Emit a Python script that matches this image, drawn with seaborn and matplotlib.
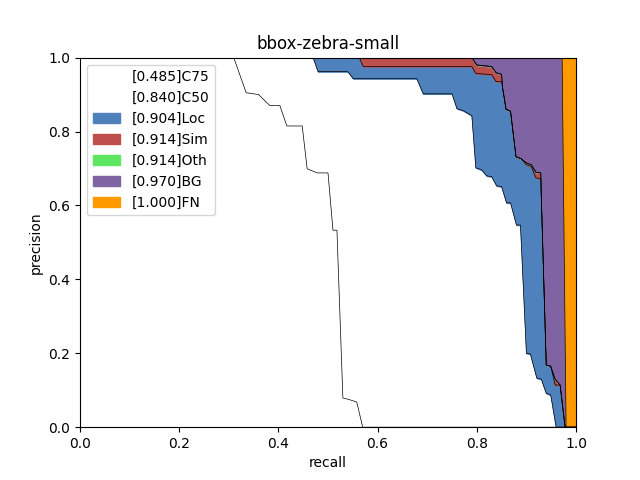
import numpy as np
import matplotlib
matplotlib.use('Agg')
import matplotlib.pyplot as plt
import seaborn as sns
import pandas as pd

# PR-curve vertices (recall, precision)
c75_rc = [0.0, 0.31, 0.335, 0.36, 0.383, 0.403, 0.417, 0.448, 0.458, 0.478, 0.50, 0.51, 0.518, 0.530, 0.540, 0.558, 0.570, 1.0]
c75_pr = [1.0, 1.0, 0.905, 0.90, 0.87, 0.87, 0.815, 0.815, 0.699, 0.688, 0.688, 0.533, 0.533, 0.079, 0.076, 0.068, 0.0, 0.0]
c50_rc = [0.0, 0.47, 0.48, 0.54, 0.551, 0.679, 0.692, 0.75, 0.76, 0.772, 0.79, 0.798, 0.81, 0.82, 0.83, 0.84, 0.85,
          0.86, 0.868, 0.88, 0.888, 0.90, 0.908, 0.921, 0.93, 0.94, 0.949, 0.96, 1.0]
c50_pr = [1.0, 1.0, 0.962, 0.962, 0.943, 0.943, 0.902, 0.902, 0.862, 0.857, 0.843, 0.702, 0.696, 0.68, 0.678, 0.653, 0.651,
          0.607, 0.607, 0.547, 0.547, 0.20, 0.198, 0.133, 0.13, 0.092, 0.087, 0.0, 0.0]
loc_rc = [0.0, 0.563, 0.571, 0.79, 0.798, 0.83, 0.839, 0.85, 0.859, 0.868, 0.879, 0.89, 0.90, 0.91, 0.919, 0.929,
          0.94, 0.949, 0.958, 0.968, 0.978, 1.0]
loc_pr = [1.0, 1.0, 0.976, 0.976, 0.957, 0.954, 0.935, 0.935, 0.86, 0.855, 0.732, 0.726, 0.71, 0.705, 0.675, 0.672,
          0.168, 0.165, 0.114, 0.114, 0.0, 0.0]
sim_rc = [0.0, 0.79, 0.80, 0.83, 0.839, 0.85, 0.856, 0.868, 0.877, 0.89, 0.90, 0.91, 0.919, 0.929,
          0.936, 0.949, 0.958, 0.968, 0.978, 1.0]
sim_pr = [1.0, 1.0, 0.98, 0.976, 0.959, 0.955, 0.845, 0.84, 0.73, 0.725, 0.715, 0.71, 0.69, 0.688,
          0.17, 0.165, 0.13, 0.114, 0.0, 0.0]
oth_rc = sim_rc
oth_pr = sim_pr
bg_rc = [0.0, 0.972, 0.98, 1.0]
bg_pr = [1.0, 1.0, 0.0, 0.0]
fn_rc = [0.0, 1.0]
fn_pr = [1.0, 1.0]

names = ['C75', 'C50', 'Loc', 'Sim', 'Oth', 'BG', 'FN']
aps = [0.485, 0.840, 0.904, 0.914, 0.914, 0.970, 1.000]
colors = [(1, 1, 1), (1, 1, 1), (0.31, 0.51, 0.74), (0.75, 0.31, 0.30),
          (0.36, 0.90, 0.38), (0.50, 0.39, 0.64), (1, 0.6, 0)]
curves = [(c75_rc, c75_pr), (c50_rc, c50_pr), (loc_rc, loc_pr), (sim_rc, sim_pr),
          (oth_rc, oth_pr), (bg_rc, bg_pr), (fn_rc, fn_pr)]

rs = np.linspace(0, 1, 2001)
fig, ax = plt.subplots(figsize=(6.4, 4.8), dpi=100)
prev = np.zeros_like(rs)
for name, ap, col, (rc, pr) in zip(names, aps, colors, curves):
    ps = np.interp(rs, rc, pr)
    ps = np.maximum(ps, prev)
    ax.fill_between(rs, prev, ps, color=col, label='[%.3f]%s' % (ap, name))
    df = pd.DataFrame({'recall': rs, 'precision': ps})
    sns.lineplot(data=df, x='recall', y='precision', ax=ax, color='black', linewidth=0.5,
                 estimator=None, sort=False)
    prev = ps

ax.set_xlim(0, 1)
ax.set_ylim(0, 1)
ax.set_xlabel('recall')
ax.set_ylabel('precision')
ax.set_title('bbox-zebra-small')
ax.legend(loc='upper left')
fig.savefig('out.png')
